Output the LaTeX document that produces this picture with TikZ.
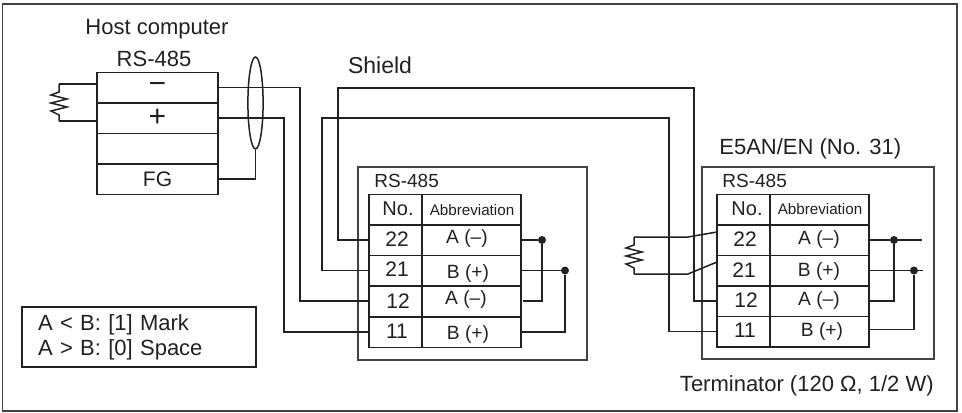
\documentclass[tikz,border=0pt]{standalone}
\usepackage{fontspec}
\setmainfont{Liberation Sans}
\usetikzlibrary{shapes.geometric}
\definecolor{inkdark}{gray}{0.13}
\tikzset{
	wire/.style={draw=inkdark,line width=0.75pt},
	frameline/.style={draw=inkdark!85,line width=0.55pt},
	hostrow/.style={draw=inkdark,line width=0.75pt,minimum width=60.5pt,minimum height=15.25pt,inner sep=0pt,outer sep=0pt},
	nocell/.style={draw=inkdark,line width=0.75pt,minimum width=26.5pt,minimum height=15.25pt,inner sep=0pt,outer sep=0pt},
	abbrcell/.style={draw=inkdark,line width=0.75pt,minimum width=49.5pt,minimum height=15.25pt,inner sep=0pt,outer sep=0pt},
	celltext/.style={inner sep=0pt,text=inkdark,font=\fontsize{10.5}{12}\selectfont},
	abbrtext/.style={inner sep=0pt,text=inkdark,font=\fontsize{9.6}{11}\selectfont},
	smalltext/.style={inner sep=0pt,text=inkdark,font=\fontsize{7.6}{9}\selectfont},
	caption/.style={inner sep=0pt,text=inkdark,font=\fontsize{11}{13}\selectfont},
	tabletitle/.style={inner sep=0pt,anchor=west,text=inkdark,font=\fontsize{9.5}{11}\selectfont},
	joint/.style={circle,fill=inkdark,inner sep=0pt,minimum size=4pt},
	resistor/.pic={
		\coordinate (-top) at (0,-18.5);
		\coordinate (-bot) at (0,18.5);
		\draw[wire] (-top) -- (0,-10.5) -- (-8,-7.5) -- (8,-3.5) -- (-8,0.5) -- (8,4.5) -- (-8,8.5) -- (0,12.5) -- (-bot);
	},
}
\begin{document}
\begin{tikzpicture}[
		x={(0.5pt,0pt)},
		y={(0pt,-0.5pt)},
	]
	\useasboundingbox (0,0) rectangle (962,412);
	\draw[frameline,line width=0.8pt] (2.5,4) rectangle (957,411);

	% host side
	\node[caption] (hosttitle) at (157,29) {Host computer};
	\node[caption] (hostbus) at (154,59) {RS-485};
	\foreach \n/\y/\t in {1/87.5/\fontsize{15}{15}\selectfont −,2/118/\fontsize{15}{15}\selectfont +,3/148.5/,4/179/\fontsize{10.5}{12}\selectfont FG}{
		\node[hostrow,text=inkdark] (host\n) at (157.5,\y) {\t};
	}
	\node[ellipse,draw=inkdark,line width=0.75pt,inner sep=0pt,minimum width=7.6pt,minimum height=46pt] (shieldloop) at (255.5,103) {};
	\pic (hostres) at (59,102.5) {resistor};
	\draw[wire] ([yshift=1.75pt]host1.west) -- (hostres-top);
	\draw[wire] ([yshift=-1.5pt]host2.west) -- (hostres-bot);
	\draw[wire] (host4.east) -| (shieldloop.south);

	\node[caption,font=\fontsize{11.5}{13}\selectfont] (shieldtext) at (380,65) {Shield};
	\node[caption,align=left,draw=inkdark,line width=0.55pt,inner xsep=8pt,text width=101pt,minimum height=30pt] (modebox) at (139,337) {A < B: [1] Mark\\[-0.5pt]A > B: [0] Space};

	% left unit
	\draw[frameline] (358,167) rectangle (587,360);
	\node[tabletitle] (lbus) at (374,181) {RS-485};
	\node[nocell] (lnohead) at (395.5,209.5) {};
	\node[abbrcell] (labhead) at (471.5,209.5) {};
	\node[celltext,font=\fontsize{10}{12}\selectfont] (lnotext) at (398,209) {No.};
	\node[smalltext] (labtext) at (472,210) {Abbreviation};
	\foreach \n/\y/\a/\nx/\ny/\ax/\ay in {22/240/A (–)/397/239/467/238.5,21/270.5/B (+)/397/269/468/274,12/301/A (–)/398/301/466/300,11/332/B (+)/397/331/468/335}{
		\node[nocell] (l\n) at (395.5,\y) {};
		\node[abbrcell] (la\n) at (471.5,\y) {};
		\node[celltext] (ln\n) at (\nx,\ny) {\n};
		\node[abbrtext] (lt\n) at (\ax,\ay) {\a};
	}
	\node[joint] (ldota) at (542,240) {};
	\node[joint] (ldotb) at (565,270.5) {};
	\draw[wire] (la22.east) -- (ldota);
	\draw[wire] (la21.east) -- (ldotb);
	\draw[wire,shorten <=1pt] (la12.east) -| (ldota);
	\draw[wire] (la11.east) -| (ldotb);

	% right unit
	\node[caption,anchor=west] (unittitle) at (719,149) {E5AN/EN (No. 31)};
	\draw[frameline] (702,167) rectangle (934,359);
	\node[tabletitle] (rbus) at (722,181) {RS-485};
	\node[nocell] (rnohead) at (743.5,209.5) {};
	\node[abbrcell] (rabhead) at (819.5,209.5) {};
	\node[celltext,font=\fontsize{10}{12}\selectfont] (rnotext) at (747,209) {No.};
	\node[smalltext] (rabtext) at (820,209) {Abbreviation};
	\foreach \n/\y/\a/\nx/\ny/\ax/\ay in {22/240/A (–)/745/239/819/240,21/270.5/B (+)/744/270/819/271.5,12/301/A (–)/746/300/819/301,11/331.5/B (+)/745/330/822/332}{
		\node[nocell] (r\n) at (743.5,\y) {};
		\node[abbrcell] (ra\n) at (819.5,\y) {};
		\node[celltext] (rn\n) at (\nx,\ny) {\n};
		\node[abbrtext] (rt\n) at (\ax,\ay) {\a};
	}
	\node[joint] (rdota) at (894,240) {};
	\node[joint] (rdotb) at (914,270.5) {};
	\coordinate (renda) at (922,240);
	\coordinate (rendb) at (923,270.5);
	\draw[wire] (ra22.east) -- (rdota) -- (renda);
	\draw[wire] (ra21.east) -- (rdotb) -- (rendb);
	\draw[wire] (ra12.east) -| (rdota);
	\draw[wire] ([yshift=1pt]ra11.east) -| (rdotb);

	\pic (termres) at (634,255.5) {resistor};
	\coordinate (tbenda) at (688,237);
	\coordinate (tbendb) at (688,274);
	\draw[wire] ([yshift=4pt]r22.west) -- (tbenda) -- (termres-top);
	\draw[wire] ([yshift=4.25pt]r21.west) -- (tbendb) -- (termres-bot);
	\node[caption,anchor=east] (termtext) at (934,386) {Terminator (120 Ω, 1/2 W)};

	% long runs between the units
	\coordinate (runa) at (300,200);
	\coordinate (runb) at (284,200);
	\coordinate (shieldal) at (338,88);
	\coordinate (shieldar) at (694,88);
	\coordinate (shieldbl) at (322,118);
	\coordinate (shieldbr) at (669,118);
	\draw[wire] (host1.east) -| (runa) |- (l12.west);
	\draw[wire] (host2.east) -| (runb) |- (l11.west);
	\draw[wire] (l22.west) -| (shieldal) -- (shieldar) |- (r12.west);
	\draw[wire] (l21.west) -| (shieldbl) -- (shieldbr) |- (r11.west);
\end{tikzpicture}
\end{document}
